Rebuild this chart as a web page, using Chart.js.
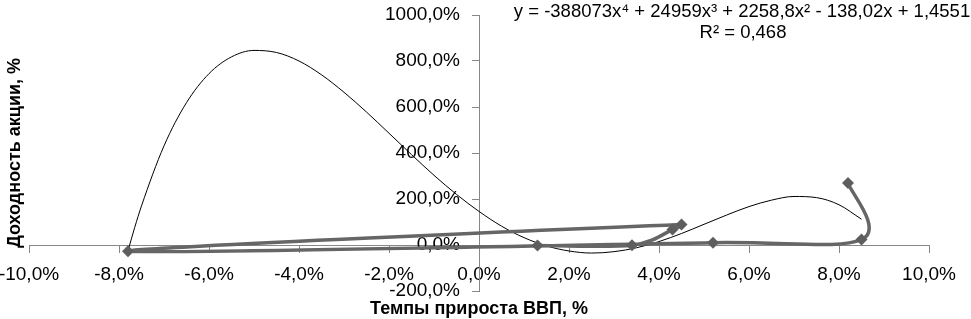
<!DOCTYPE html>
<html>
<head>
<meta charset="utf-8">
<script src="https://cdn.jsdelivr.net/npm/chart.js@4"></script>
<style>
  html, body { margin: 0; background: #fff; }
  #wrap { width: 971px; height: 319px; }
</style>
</head>
<body>
<div id="wrap"><canvas id="chart"></canvas></div>
<script>
// GDP growth (x) vs stock return (y), in %, in series order
const gdpGrowth = [8.2, 8.5, 5.2, -7.8, 4.5, 4.3, 3.4, 1.3];
const stockReturn = [270, 24, 10, -27, 89, 67, -1, -2];

// polynomial trend line
const trendX = [-7.8, -7.65, -7.5, -7, -6.5, -6, -5.5, -5, -4.5, -4, -3.5, -3, -2.5, -2, -1.5, -1, -0.5, 0,
  0.5, 1, 1.5, 2, 2.5, 3, 3.5, 4, 4.5, 5, 5.5, 6, 6.5, 7, 7.5, 8, 8.5];
const trendY = [-25, 77, 170, 431, 619, 745, 818, 846, 837, 800, 740, 664, 578, 486, 393, 303, 220, 146,
  82, 32, -4, -26, -35, -29, -12, 15, 50, 90, 130, 167, 195, 211, 206, 175, 112];

const xTickValues = [-10, -8, -6, -4, -2, 0, 2, 4, 6, 8, 10];
const yTickValues = [-200, 0, 200, 400, 600, 800, 1000];

const trendLabel = 'y = -388073x⁴ + 24959x³ + 2258,8x² - 138,02x + 1,4551';
const r2Label = 'R² = 0,468';
const xTitle = 'Темпы прироста ВВП, %';
const yTitle = 'Доходность акции, %';

const pct = v => v.toFixed(1).replace('.', ',') + '%';
const axisColor = '#878787';
const font = { family: 'Liberation Sans', size: 19 };

// Excel-like smoothed line: arms are 1/6 of the chord between neighbours,
// shortened when the adjacent segment is short
const excelSmooth = {
  id: 'excelSmooth',
  beforeDatasetsDraw(chart) {
    const meta = chart.getDatasetMeta(0);
    meta.dataset.updateControlPoints(chart.chartArea, 'x');
    const pts = meta.data;
    const dist = (a, b) => Math.hypot(a.x - b.x, a.y - b.y);
    pts.forEach((p, i) => {
      const prev = pts[Math.max(i - 1, 0)];
      const next = pts[Math.min(i + 1, pts.length - 1)];
      const dx = (next.x - prev.x) / 6, dy = (next.y - prev.y) / 6;
      const arm = Math.hypot(dx, dy) || 1;
      const k1 = Math.min(1, 0.5 * dist(p, prev) / arm);
      const k2 = Math.min(1, 0.5 * dist(p, next) / arm);
      p.cp1x = p.x - dx * k1; p.cp1y = p.y - dy * k1;
      p.cp2x = p.x + dx * k2; p.cp2y = p.y + dy * k2;
    });
  }
};

const textPlugin = {
  id: 'texts',
  afterDraw(chart) {
    const ctx = chart.ctx;
    ctx.save();
    ctx.fillStyle = '#000';
    ctx.textAlign = 'center';
    ctx.textBaseline = 'middle';
    ctx.font = '18.5px "Liberation Sans"';
    ctx.fillText(trendLabel, 742, 12);
    ctx.fillText(r2Label, 743, 33);
    ctx.font = 'bold 18px "Liberation Sans"';
    ctx.fillText(xTitle, 479, 309);
    ctx.translate(15, 153);
    ctx.rotate(-Math.PI / 2);
    ctx.fillText(yTitle, 0, 0);
    ctx.restore();
  }
};

new Chart(document.getElementById('chart'), {
  type: 'scatter',
  data: {
    datasets: [
      {
        label: 'data',
        data: gdpGrowth.map((x, i) => ({ x, y: stockReturn[i] })),
        showLine: true,
        tension: 0.4,
        borderColor: '#666666',
        borderWidth: 3.5,
        pointStyle: 'rectRot',
        pointRadius: 6,
        pointBackgroundColor: '#5e5e5e',
        pointBorderColor: '#5e5e5e',
        pointBorderWidth: 0
      },
      {
        label: 'trend',
        data: trendX.map((x, i) => ({ x, y: trendY[i] })),
        showLine: true,
        cubicInterpolationMode: 'monotone',
        borderColor: '#000',
        borderWidth: 1,
        pointRadius: 0
      }
    ]
  },
  options: {
    responsive: true,
    maintainAspectRatio: false,
    animation: false,
    layout: { padding: { left: 29, right: 42, top: 15, bottom: 28 } },
    plugins: { legend: { display: false }, tooltip: { enabled: false } },
    scales: {
      x: {
        type: 'linear',
        min: -10, max: 10,
        position: { y: 0 },
        afterBuildTicks: s => { s.ticks = xTickValues.map(v => ({ value: v })); },
        afterFit: s => { s.paddingLeft = 0; s.paddingRight = 0; },
        ticks: { callback: pct, color: '#000', font, padding: 11, maxRotation: 0 },
        grid: { drawOnChartArea: false, color: axisColor, tickLength: 7 },
        border: { color: axisColor }
      },
      y: {
        type: 'linear',
        min: -200, max: 1000,
        position: { x: 0 },
        afterBuildTicks: s => { s.ticks = yTickValues.map(v => ({ value: v })); },
        afterFit: s => { s.paddingTop = 0; s.paddingBottom = 0; },
        ticks: { callback: v => pct(v) + '\u2002\u2002', color: '#000', font },
        grid: { drawOnChartArea: false, color: axisColor, tickLength: 7 },
        border: { color: axisColor }
      }
    }
  },
  plugins: [excelSmooth, textPlugin]
});
</script>
</body>
</html>
